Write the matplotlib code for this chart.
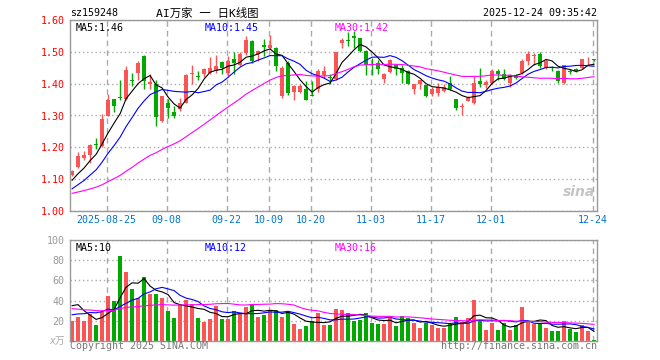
import numpy as np
import pandas as pd
import matplotlib
matplotlib.use("Agg")
import matplotlib.pyplot as plt

# daily candles 2025-08-15 .. 2025-12-24 (88 trading days)
open_ = [1.112, 1.137, 1.168, 1.175, 1.210, 1.205, 1.300, 1.351, 1.357, 1.352,
         1.409, 1.435, 1.488, 1.400, 1.400, 1.282, 1.338, 1.310, 1.320, 1.340,
         1.430, 1.425, 1.430, 1.434, 1.440, 1.468, 1.434, 1.478, 1.460, 1.497,
         1.535, 1.492, 1.520, 1.512, 1.512, 1.360, 1.466, 1.374, 1.374, 1.384,
         1.365, 1.382, 1.426, 1.420, 1.414, 1.528, 1.537, 1.549, 1.542, 1.502,
         1.462, 1.466, 1.416, 1.436, 1.458, 1.450, 1.440, 1.384, 1.398, 1.395,
         1.367, 1.372, 1.377, 1.403, 1.351, 1.326, 1.346, 1.340, 1.408, 1.395,
         1.403, 1.440, 1.430, 1.403, 1.425, 1.434, 1.471, 1.488, 1.492, 1.450,
         1.451, 1.440, 1.401, 1.438, 1.447, 1.448, 1.476, 1.476]
high = [1.130, 1.186, 1.190, 1.210, 1.230, 1.305, 1.367, 1.353, 1.413, 1.455,
        1.435, 1.470, 1.490, 1.430, 1.410, 1.362, 1.352, 1.330, 1.355, 1.430,
        1.458, 1.440, 1.450, 1.485, 1.490, 1.470, 1.486, 1.500, 1.500, 1.550,
        1.536, 1.507, 1.540, 1.554, 1.515, 1.455, 1.470, 1.396, 1.400, 1.408,
        1.408, 1.445, 1.455, 1.430, 1.500, 1.544, 1.562, 1.565, 1.545, 1.505,
        1.480, 1.475, 1.432, 1.476, 1.462, 1.458, 1.442, 1.400, 1.410, 1.397,
        1.390, 1.403, 1.400, 1.424, 1.353, 1.340, 1.360, 1.424, 1.448, 1.410,
        1.445, 1.445, 1.445, 1.430, 1.430, 1.478, 1.502, 1.497, 1.500, 1.476,
        1.455, 1.442, 1.460, 1.447, 1.450, 1.478, 1.484, 1.478]
low = [1.110, 1.135, 1.160, 1.150, 1.195, 1.200, 1.298, 1.312, 1.350, 1.350,
       1.393, 1.410, 1.383, 1.382, 1.267, 1.280, 1.293, 1.292, 1.315, 1.338,
       1.400, 1.410, 1.420, 1.430, 1.435, 1.430, 1.424, 1.430, 1.455, 1.490,
       1.465, 1.470, 1.486, 1.510, 1.440, 1.355, 1.365, 1.348, 1.370, 1.350,
       1.360, 1.375, 1.418, 1.398, 1.410, 1.513, 1.518, 1.512, 1.500, 1.426,
       1.426, 1.430, 1.403, 1.434, 1.426, 1.403, 1.398, 1.367, 1.382, 1.358,
       1.360, 1.362, 1.375, 1.380, 1.318, 1.300, 1.344, 1.335, 1.390, 1.385,
       1.400, 1.410, 1.410, 1.390, 1.415, 1.430, 1.460, 1.460, 1.450, 1.445,
       1.440, 1.403, 1.398, 1.431, 1.436, 1.445, 1.460, 1.470]
close = [1.125, 1.174, 1.177, 1.207, 1.207, 1.288, 1.348, 1.331, 1.354, 1.442,
         1.407, 1.466, 1.408, 1.405, 1.295, 1.360, 1.322, 1.300, 1.340, 1.428,
         1.434, 1.422, 1.447, 1.450, 1.457, 1.450, 1.471, 1.466, 1.492, 1.536,
         1.470, 1.502, 1.515, 1.523, 1.455, 1.450, 1.370, 1.393, 1.393, 1.350,
         1.362, 1.440, 1.440, 1.418, 1.499, 1.538, 1.535, 1.542, 1.502, 1.460,
         1.458, 1.445, 1.429, 1.473, 1.445, 1.432, 1.398, 1.400, 1.410, 1.361,
         1.384, 1.388, 1.388, 1.382, 1.325, 1.330, 1.356, 1.403, 1.398, 1.405,
         1.440, 1.430, 1.414, 1.426, 1.418, 1.471, 1.492, 1.491, 1.455, 1.471,
         1.449, 1.408, 1.458, 1.436, 1.440, 1.476, 1.479, 1.474]
volume = [20, 24, 20, 27, 16, 29, 45, 40, 84, 68, 51, 43, 63, 47, 47, 43, 30, 23, 37, 41,
          37, 23, 19, 22, 35, 22, 22, 30, 27, 34, 37, 24, 26, 31, 31, 24, 30, 17, 12, 15,
          20, 28, 16, 16, 32, 31, 28, 20, 21, 28, 18, 17, 17, 23, 15, 25, 23, 18, 13, 18,
          16, 13, 13, 18, 24, 19, 23, 41, 21, 11, 18, 11, 18, 11, 16, 34, 19, 17, 18, 13,
          10, 10, 20, 12, 9, 16, 10, 1]

# earlier days, off the left edge, only needed for the moving averages
prior_close = [1.050, 1.045, 1.052, 1.048, 1.055, 1.050, 1.046, 1.052, 1.049, 1.047,
               1.051, 1.046, 1.050, 1.048, 1.045, 1.049, 1.052, 1.047, 1.044, 1.046,
               1.042, 1.045, 1.040, 1.043, 1.044, 1.070, 1.088, 1.092, 1.108]
prior_volume = [38, 42, 30, 35, 33, 40, 28, 36, 34, 37, 31, 39, 35, 32, 36, 38, 30, 34, 37, 35,
                16, 18, 15, 19, 17, 19, 50, 49, 37]

tick_dates = ["2025-08-25", "2025-09-08", "2025-09-22", "2025-10-09", "2025-10-20",
              "2025-11-03", "2025-11-17", "2025-12-01", "2025-12-24"]
tick_labels = ["2025-08-25", "09-08", "09-22", "10-09", "10-20",
               "11-03", "11-17", "12-01", "12-24"]
holidays = ["2025-10-01", "2025-10-02", "2025-10-03", "2025-10-06", "2025-10-07", "2025-10-08"]

RED = "#fa5454"
GREEN = "#00a800"
MONO = ["DejaVu Sans Mono", "Noto Sans CJK SC"]

days = pd.bdate_range("2025-08-15", "2025-12-24")
days = days[~days.isin(pd.to_datetime(holidays))]
n = len(close)
x = np.arange(n)
tick_pos = [days.get_loc(pd.Timestamp(d)) - 0.25 for d in tick_dates]


def ma(prior, vals, k):
    s = pd.Series(list(prior) + list(vals)).rolling(k).mean().to_numpy()
    return s[-len(vals):]


o = np.array(open_); c = np.array(close); h = np.array(high); l = np.array(low)
up = c >= o
cols = np.where(up, RED, GREEN)

fig = plt.figure(figsize=(6.6, 3.6), dpi=100)
W, H = 660, 360
ax = fig.add_axes([70 / W, 1 - 211 / H, 527 / W, 191 / H])
axv = fig.add_axes([70 / W, 1 - 341 / H, 527 / W, 101 / H])

for a in (ax, axv):
    a.set_xlim(-0.35, 87.5)
    for s in a.spines.values():
        s.set_color("#999999")
        s.set_linewidth(1)
    a.set_xticks(tick_pos)
    a.xaxis.grid(True, color="#aaaaaa", linestyle=(0, (4, 3)), linewidth=1)
    a.yaxis.grid(True, color="#aaaaaa", linestyle=(0, (1, 2)), linewidth=1)
    a.set_axisbelow(True)
    a.tick_params(length=0)

# candles
ax.vlines(x, l, h, colors=cols, linewidth=1)
body = np.maximum(np.abs(c - o), 0.003)
ax.bar(x, body, bottom=np.minimum(o, c), width=0.8, color=cols, linewidth=0)

ma5 = ma(prior_close, close, 5)
ma10 = ma(prior_close, close, 10)
ma30 = ma(prior_close, close, 30)
ax.plot(x, ma5, color="black", lw=0.8)
ax.plot(x, ma10, color="#0000ff", lw=0.8)
ax.plot(x, ma30, color="#ff00ff", lw=0.8)

ax.set_ylim(1.0, 1.6)
ax.set_yticks([1.0, 1.1, 1.2, 1.3, 1.4, 1.5, 1.6])
ax.set_yticklabels(["%.2f" % v for v in ax.get_yticks()], color="red",
                   family=MONO, fontsize=7.2)
ax.set_xticklabels(tick_labels, color="#0077cc", family=MONO, fontsize=7.2)
ax.tick_params(axis="y", pad=4)
ax.tick_params(axis="x", pad=3)

ax.text(0.01, 0.985, "MA5:%.2f" % ma5[-1], transform=ax.transAxes, va="top",
        family=MONO, fontsize=7.2, color="black")
ax.text(0.255, 0.985, "MA10:%.2f" % ma10[-1], transform=ax.transAxes, va="top",
        family=MONO, fontsize=7.2, color="#0000ff")
ax.text(0.503, 0.985, "MA30:%.2f" % ma30[-1], transform=ax.transAxes, va="top",
        family=MONO, fontsize=7.2, color="#ff00ff")
ax.text(0.997, 0.1, "sina", transform=ax.transAxes, ha="right", va="center",
        fontsize=10, fontweight="bold", style="italic", color="#c4c4c4")

# volume
axv.bar(x, volume, width=0.8, color=cols, linewidth=0)
vma5 = ma(prior_volume, volume, 5)
vma10 = ma(prior_volume, volume, 10)
vma30 = ma(prior_volume, volume, 30)
axv.plot(x, vma5, color="black", lw=0.8)
axv.plot(x, vma10, color="#0000ff", lw=0.8)
axv.plot(x, vma30, color="#ff00ff", lw=0.8)
axv.set_ylim(0, 100)
axv.set_yticks([20, 40, 60, 80, 100])
axv.set_yticklabels(["20", "40", "60", "80", "100"], color="#999999",
                    family=MONO, fontsize=7.2)
axv.tick_params(axis="y", pad=4)
axv.set_xticklabels([])

axv.text(0.01, 0.97, "MA5:%d" % round(vma5[-1]), transform=axv.transAxes, va="top",
         family=MONO, fontsize=7.2, color="black")
axv.text(0.255, 0.97, "MA10:%d" % round(vma10[-1]), transform=axv.transAxes, va="top",
         family=MONO, fontsize=7.2, color="#0000ff")
axv.text(0.503, 0.97, "MA30:%d" % round(vma30[-1]), transform=axv.transAxes, va="top",
         family=MONO, fontsize=7.2, color="#ff00ff")

# header / footer
fig.text(70 / W, 1 - 13 / H, "sz159248", va="center", family=MONO, fontsize=7.2)
fig.text(207 / W, 1 - 13 / H, "AI万家 一 日K线图", ha="center", va="center",
         family=MONO, fontsize=8.2)
fig.text(597 / W, 1 - 13 / H, "2025-12-24 09:35:42", ha="right", va="center",
         family=MONO, fontsize=7.2)
fig.text(65 / W, 1 - 341 / H, "x万", ha="right", va="center", family=MONO,
         fontsize=7, color="#aaaaaa", style="italic")
fig.text(70 / W, 1 - 346 / H, "Copyright 2025 SINA.COM", va="center", family=MONO,
         fontsize=7.2, color="#777777")
fig.text(597 / W, 1 - 346 / H, "http://finance.sina.com.cn", ha="right", va="center",
         family=MONO, fontsize=7.2, color="#777777")

fig.savefig("out.png", dpi=100)
